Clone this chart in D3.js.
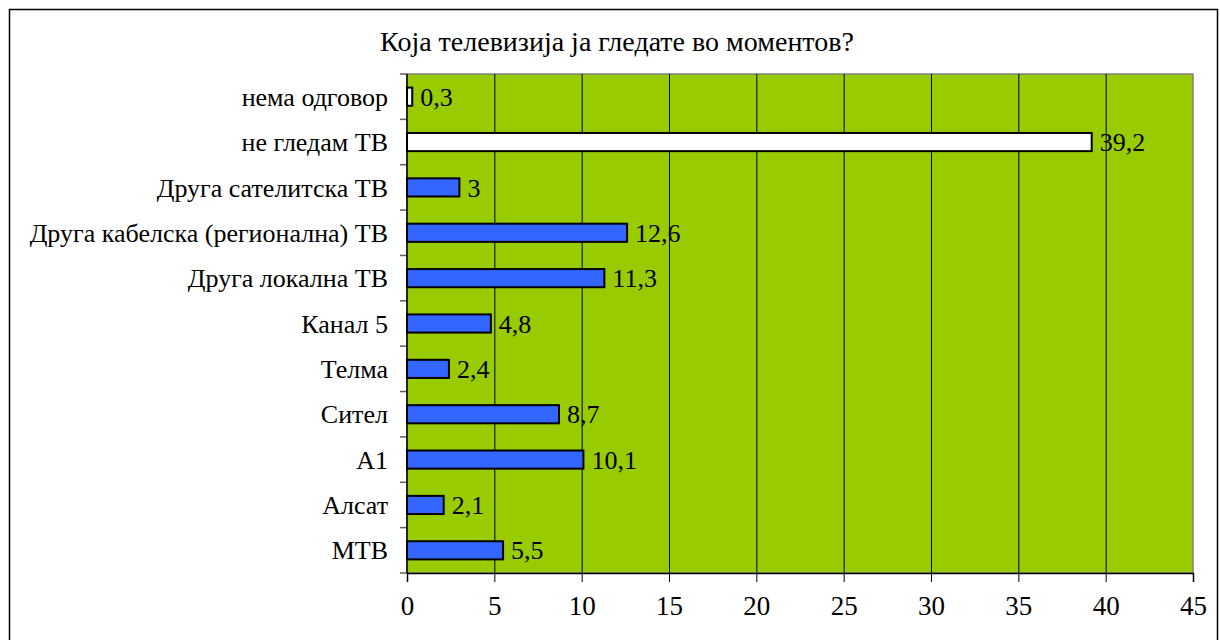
<!DOCTYPE html>
<html>
<head>
<meta charset="utf-8">
<script src="https://cdn.jsdelivr.net/npm/d3@7/dist/d3.min.js"></script>
</head>
<body style="margin:0">
<svg id="chart" width="1220" height="640" style="font-family:'Liberation Serif'"></svg>
<script>
const title = 'Која телевизија ја гледате во моментов?';
const categories = ['нема одговор', 'не гледам ТВ', 'Друга сателитска ТВ', 'Друга кабелска (регионална) ТВ',
  'Друга локална ТВ', 'Канал 5', 'Телма', 'Сител', 'А1', 'Алсат', 'МТВ'];
const values = [0.3, 39.2, 3, 12.6, 11.3, 4.8, 2.4, 8.7, 10.1, 2.1, 5.5];
const white_bars = ['нема одговор', 'не гледам ТВ'];
const x_ticks = [0, 5, 10, 15, 20, 25, 30, 35, 40, 45];

const serif = "'Liberation Serif'";
const plot = {l: 407, r: 1193, t: 74, b: 573};

const svg = d3.select('#chart');

// outer frame
svg.append('rect').attr('x', 9.5).attr('y', 9.5).attr('width', 1208).attr('height', 700)
   .attr('fill', '#fff').attr('stroke', '#000').attr('stroke-width', 1.5);

const titleText = svg.append('text').attr('x', 617).attr('y', 51).attr('text-anchor', 'middle')
   .style('font-family', serif).attr('font-size', 26).text(title);
// title is about 500px wide in the original
titleText.attr('font-size', Math.min(28, 26 * 500 / titleText.node().getComputedTextLength()));

const xScale = d3.scaleLinear([0, 45], [plot.l, plot.r]);
const yScale = d3.scaleBand(categories, [plot.t, plot.b]).paddingInner(0.6).paddingOuter(0.3);

// plot background
svg.append('rect').attr('x', plot.l).attr('y', plot.t).attr('width', plot.r - plot.l).attr('height', plot.b - plot.t)
   .attr('fill', '#99CC00').attr('stroke', '#808080').attr('stroke-width', 1.5);

// gridlines
svg.append('g').selectAll('line').data(x_ticks.slice(1, -1)).join('line')
   .attr('x1', d => xScale(d) + 0.5).attr('x2', d => xScale(d) + 0.5)
   .attr('y1', plot.t).attr('y2', plot.b)
   .attr('stroke', '#000').attr('stroke-width', 1);

// bars
svg.append('g').selectAll('rect').data(categories).join('rect')
   .attr('x', xScale(0))
   .attr('y', d => yScale(d))
   .attr('width', (d, i) => xScale(values[i]) - xScale(0))
   .attr('height', yScale.bandwidth())
   .attr('fill', d => white_bars.includes(d) ? '#fff' : '#3366FF')
   .attr('stroke', '#000').attr('stroke-width', 2);

// value labels
svg.append('g').selectAll('text').data(categories).join('text')
   .attr('x', (d, i) => xScale(values[i]) + 8)
   .attr('y', d => yScale(d) + yScale.bandwidth() / 2)
   .attr('dy', '0.35em').attr('font-size', 26).style('font-family', serif)
   .text((d, i) => String(values[i]).replace('.', ','));

// x axis
const xAxis = svg.append('g').attr('transform', `translate(0,${plot.b})`)
   .call(d3.axisBottom(xScale).tickValues(x_ticks).tickSize(9).tickPadding(14))
   .attr('font-family', null);
xAxis.select('.domain').attr('stroke', '#000').attr('stroke-width', 1.5);
xAxis.selectAll('text').attr('font-size', 27).style('font-family', serif);

// y axis with ticks at band edges
const edges = d3.range(categories.length + 1).map(i => plot.t + i * (plot.b - plot.t) / categories.length);
svg.append('g').selectAll('line').data(edges).join('line')
   .attr('x1', plot.l - 7).attr('x2', plot.l).attr('y1', d => d).attr('y2', d => d)
   .attr('stroke', '#606060').attr('stroke-width', 1.5);
svg.append('line').attr('x1', plot.l).attr('x2', plot.l).attr('y1', plot.t).attr('y2', plot.b)
   .attr('stroke', '#000').attr('stroke-width', 1.5);

const catLabels = svg.append('g').selectAll('text').data(categories).join('text')
   .attr('x', 388).attr('y', d => yScale(d) + yScale.bandwidth() / 2)
   .attr('dy', '0.35em').attr('text-anchor', 'end').attr('font-size', 22).style('font-family', serif)
   .text(d => d);
// longest label spans about 365px in the original
const longest = d3.max(catLabels.nodes(), n => n.getComputedTextLength());
catLabels.attr('font-size', Math.min(26, 22 * 365 / longest));
</script>
</body>
</html>
